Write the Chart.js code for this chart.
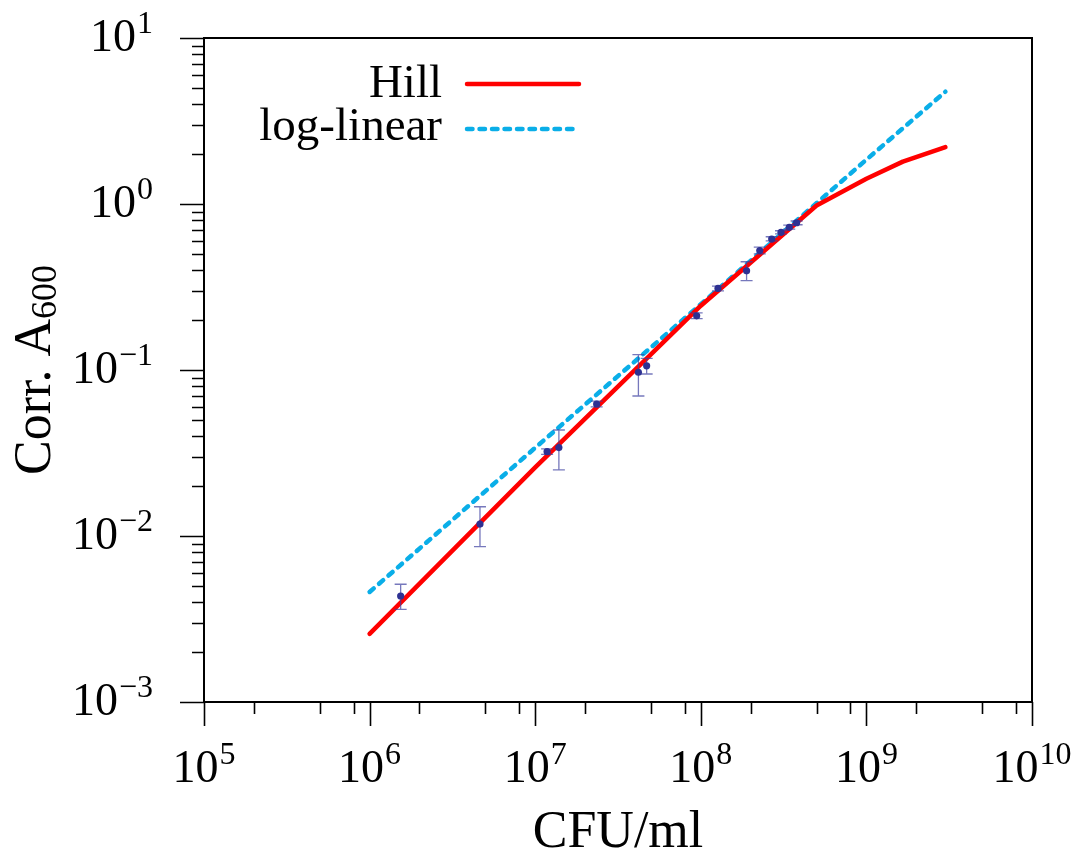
<!DOCTYPE html>
<html>
<head>
<meta charset="utf-8">
<script src="https://cdn.jsdelivr.net/npm/chart.js@4.4.1/dist/chart.umd.min.js"></script>
<style>
  html, body { margin: 0; padding: 0; background: #fff; }
  #wrap { width: 1076px; height: 859px; }
</style>
</head>
<body>
<div id="wrap"><canvas id="chart" width="1076" height="859"></canvas></div>
<script>
// measured points (CFU/ml vs corrected A600) with error range
const cfu     = [1.54e6, 4.64e6, 1.18e7, 1.39e7, 2.35e7, 4.2e7, 4.71e7, 9.44e7, 1.27e8, 1.89e8, 2.27e8, 2.68e8, 3.05e8, 3.42e8, 3.79e8];
const a600    = [0.00435, 0.0118, 0.0322, 0.0341, 0.0624, 0.0969, 0.106, 0.212, 0.310, 0.396, 0.524, 0.615, 0.675, 0.724, 0.771];
const errLow  = [0.00361, 0.00862, 0.0310, 0.0250, 0.0600, 0.0697, 0.0946, 0.204, 0.300, 0.345, 0.500, 0.600, 0.660, 0.705, 0.750];
const errHigh = [0.00512, 0.0150, 0.0335, 0.0435, 0.0650, 0.1236, 0.1175, 0.221, 0.320, 0.449, 0.550, 0.635, 0.690, 0.745, 0.790];

// fitted curves
const hillX = [1e6, 1e7, 1e8, 5e8, 1e9, 1.66e9, 3e9];
const hillY = [0.00257, 0.0259, 0.244, 0.98, 1.42, 1.80, 2.20];
const loglinX = [1e6, 1e7, 1e8, 1e9, 3e9];
const loglinY = [0.0046, 0.0340, 0.249, 1.85, 4.75];

// axis decades and minor tick multipliers
const xTickExps = [5, 6, 7, 8, 9, 10];
const yTickExps = [-3, -2, -1, 0, 1];
const xMinor = [2, 5, 8];
const yMinor = [2, 3, 4, 5, 6, 7, 8, 9];

const SERIF = "'Liberation Serif', 'DejaVu Serif', serif";
const RED = '#ff0000';
const CYAN = '#0aaee8';
const NAVY = '#2e3192';

function toXY(xs, ys) {
    return xs.map((x, i) => ({ x: x, y: ys[i] }));
}

// error bars under the dots
const errorBars = {
    id: 'errorBars',
    beforeDatasetDraw(chart, args) {
        if (args.index !== 0) return;
        const ctx = chart.ctx;
        const xs = chart.scales.x, ys = chart.scales.y;
        ctx.save();
        ctx.strokeStyle = 'rgba(60, 62, 160, 0.7)';
        ctx.lineWidth = 1.3;
        cfu.forEach((x, i) => {
            const px = xs.getPixelForValue(x);
            const top = ys.getPixelForValue(errHigh[i]);
            const bot = ys.getPixelForValue(errLow[i]);
            ctx.beginPath();
            ctx.moveTo(px, top); ctx.lineTo(px, bot);
            ctx.moveTo(px - 6, top); ctx.lineTo(px + 6, top);
            ctx.moveTo(px - 6, bot); ctx.lineTo(px + 6, bot);
            ctx.stroke();
        });
        ctx.restore();
    }
};

// power-of-ten label with superscript
function powLabel(ctx, exp, x, y, align) {
    const base = '10';
    const sup = String(exp).replace('-', '\u2212');
    ctx.font = '46px ' + SERIF;
    const wb = ctx.measureText(base).width;
    ctx.font = '32px ' + SERIF;
    const ws = ctx.measureText(sup).width;
    const total = wb + ws + 1;
    let start = align === 'right' ? x - total : x - total / 2;
    ctx.textAlign = 'left';
    ctx.textBaseline = 'alphabetic';
    ctx.font = '46px ' + SERIF;
    ctx.fillText(base, start, y);
    ctx.font = '32px ' + SERIF;
    ctx.fillText(sup, start + wb + 1, y - 18);
}

const frameAndAxes = {
    id: 'frameAndAxes',
    afterDraw(chart) {
        const ctx = chart.ctx;
        const a = chart.chartArea;
        const xs = chart.scales.x, ys = chart.scales.y;
        ctx.save();
        ctx.strokeStyle = '#000';
        ctx.fillStyle = '#000';

        // frame
        ctx.lineWidth = 2;
        ctx.strokeRect(a.left, a.top, a.right - a.left, a.bottom - a.top);

        // ticks, outward
        ctx.lineWidth = 1.6;
        ctx.beginPath();
        xTickExps.forEach(e => {
            const p = Math.round(xs.getPixelForValue(Math.pow(10, e))) + 0.5;
            ctx.moveTo(p, a.bottom); ctx.lineTo(p, a.bottom + 24);
            if (e === xTickExps[xTickExps.length - 1]) return;
            xMinor.forEach(m => {
                const q = Math.round(xs.getPixelForValue(m * Math.pow(10, e))) + 0.5;
                ctx.moveTo(q, a.bottom); ctx.lineTo(q, a.bottom + 12);
            });
        });
        yTickExps.forEach(e => {
            const p = Math.round(ys.getPixelForValue(Math.pow(10, e))) + 0.5;
            ctx.moveTo(a.left, p); ctx.lineTo(a.left - 24, p);
            if (e === yTickExps[yTickExps.length - 1]) return;
            yMinor.forEach(m => {
                const q = Math.round(ys.getPixelForValue(m * Math.pow(10, e))) + 0.5;
                ctx.moveTo(a.left, q); ctx.lineTo(a.left - 12, q);
            });
        });
        ctx.stroke();

        // tick labels
        xTickExps.forEach(e => {
            powLabel(ctx, e, xs.getPixelForValue(Math.pow(10, e)), a.bottom + 80, 'center');
        });
        yTickExps.forEach(e => {
            powLabel(ctx, e, 153, ys.getPixelForValue(Math.pow(10, e)) + 13, 'right');
        });

        // axis titles
        ctx.font = '52px ' + SERIF;
        ctx.textAlign = 'center';
        ctx.textBaseline = 'alphabetic';
        ctx.fillText('CFU/ml', (a.left + a.right) / 2, 847);

        ctx.save();
        ctx.translate(50, (a.top + a.bottom) / 2);
        ctx.rotate(-Math.PI / 2);
        ctx.font = '52px ' + SERIF;
        const main = 'Corr. A';
        const wm = ctx.measureText(main).width;
        ctx.font = '36px ' + SERIF;
        const wsub = ctx.measureText('600').width;
        const st = -(wm + wsub) / 2;
        ctx.textAlign = 'left';
        ctx.font = '52px ' + SERIF;
        ctx.fillText(main, st, 0);
        ctx.font = '36px ' + SERIF;
        ctx.fillText('600', st + wm, 6);
        ctx.restore();

        // legend
        ctx.font = '47px ' + SERIF;
        ctx.textAlign = 'right';
        ctx.fillText('Hill', 442, 97);
        ctx.fillText('log-linear', 442, 140);
        ctx.lineCap = 'round';
        ctx.lineWidth = 4.5;
        ctx.strokeStyle = RED;
        ctx.beginPath(); ctx.moveTo(467, 84); ctx.lineTo(579, 84); ctx.stroke();
        ctx.strokeStyle = CYAN;
        ctx.setLineDash([5.5, 7]);
        ctx.beginPath(); ctx.moveTo(467, 129); ctx.lineTo(579, 129); ctx.stroke();
        ctx.restore();
    }
};

new Chart(document.getElementById('chart'), {
    type: 'scatter',
    data: {
        datasets: [
            {
                label: 'data',
                data: toXY(cfu, a600),
                pointRadius: 3.6,
                pointBackgroundColor: NAVY,
                pointBorderWidth: 0,
                showLine: false
            },
            {
                label: 'Hill',
                data: toXY(hillX, hillY),
                showLine: true,
                borderColor: RED,
                borderWidth: 4.5,
                borderCapStyle: 'round',
                borderJoinStyle: 'round',
                pointRadius: 0,
                tension: 0
            },
            {
                label: 'log-linear',
                data: toXY(loglinX, loglinY),
                showLine: true,
                borderColor: CYAN,
                borderWidth: 4.5,
                borderDash: [5.5, 7],
                borderCapStyle: 'round',
                pointRadius: 0,
                tension: 0
            }
        ]
    },
    options: {
        responsive: false,
        animation: false,
        layout: { padding: { left: 204, right: 44, top: 38, bottom: 157 } },
        plugins: {
            legend: { display: false },
            tooltip: { enabled: false }
        },
        scales: {
            x: { type: 'logarithmic', min: 1e5, max: 1e10, display: false },
            y: { type: 'logarithmic', min: 1e-3, max: 10, display: false }
        }
    },
    plugins: [errorBars, frameAndAxes]
});
</script>
</body>
</html>
